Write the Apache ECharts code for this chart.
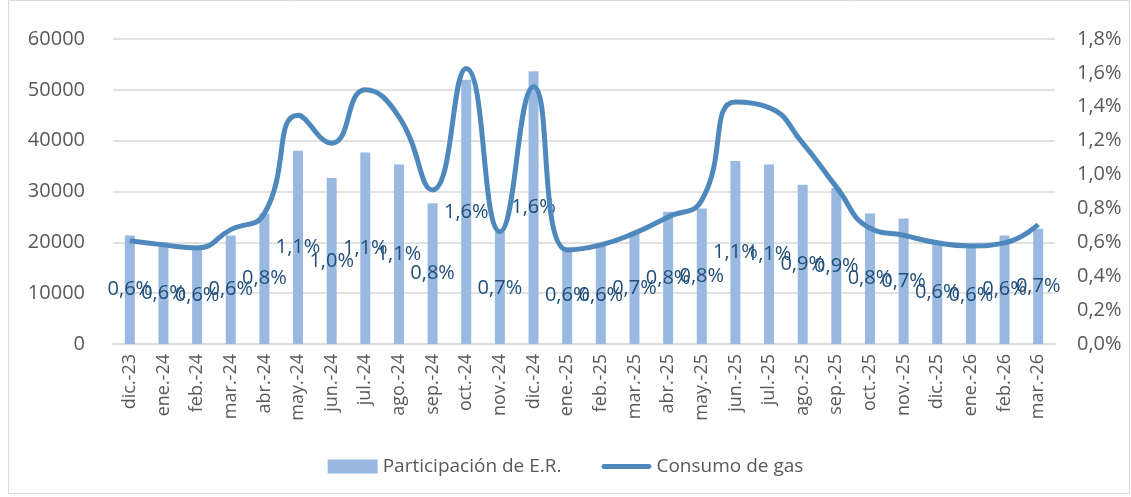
<!DOCTYPE html>
<html>
<head>
<meta charset="utf-8">
<script src="https://cdn.jsdelivr.net/npm/echarts@6/dist/echarts.min.js"></script>
<style>
  html, body { margin: 0; padding: 0; background: #fff; }
  #chart { width: 1131px; height: 497px; }
</style>
</head>
<body>
<div id="chart"></div>
<script>
// meses
const months = ['dic.-23', 'ene.-24', 'feb.-24', 'mar.-24', 'abr.-24', 'may.-24', 'jun.-24', 'jul.-24',
  'ago.-24', 'sep.-24', 'oct.-24', 'nov.-24', 'dic.-24', 'ene.-25', 'feb.-25', 'mar.-25', 'abr.-25',
  'may.-25', 'jun.-25', 'jul.-25', 'ago.-25', 'sep.-25', 'oct.-25', 'nov.-25', 'dic.-25', 'ene.-26',
  'feb.-26', 'mar.-26'];

// Participación de E.R. (%), eje derecho
const participacion = [0.64, 0.60, 0.58, 0.64, 0.77, 1.14, 0.98, 1.13,
  1.06, 0.83, 1.56, 0.66, 1.61, 0.57, 0.58, 0.66, 0.78,
  0.80, 1.08, 1.06, 0.94, 0.92, 0.77, 0.74, 0.61, 0.58,
  0.64, 0.68];

// Consumo de gas, eje izquierdo
const consumo = [20300, 19500, 18900, 22500, 25700, 45000, 39500, 50000,
  44700, 30300, 54200, 22100, 50600, 18500, 19500, 21800, 25000,
  28300, 47600, 46500, 39500, 30900, 22800, 21400, 19900, 19300,
  19900, 23500];

const leftTicks = { min: 0, max: 60000, interval: 10000 };
const rightTicks = { min: 0, max: 1.8, interval: 0.2 };

const pct = (v) => v.toFixed(1).replace('.', ',') + '%';
const FONT = '"Open Sans", "Noto Sans", sans-serif';

const chart = echarts.init(document.getElementById('chart'));
chart.setOption({
  animation: false,
  textStyle: { fontFamily: FONT },
  graphic: [{
    type: 'rect',
    shape: { x: 8.5, y: 0.5, width: 1121, height: 493 },
    style: { fill: 'none', stroke: '#d9d9d9', lineWidth: 1 },
    silent: true,
    z: -1
  }],
  grid: { left: 113, right: 76, top: 39, bottom: 153 },
  legend: {
    bottom: 16,
    left: 'center',
    itemGap: 40,
    itemWidth: 50,
    itemHeight: 14,
    textStyle: { fontSize: 19, color: '#595959', fontFamily: FONT },
    data: [
      { name: 'Participación de E.R.', icon: 'rect' },
      { name: 'Consumo de gas', icon: 'path://M2,0L48,0A2.5,2.5,0,0,1,48,5L2,5A2.5,2.5,0,0,1,2,0Z' }
    ]
  },
  xAxis: {
    type: 'category',
    data: months,
    axisLine: { lineStyle: { color: '#d9d9d9', width: 1.5 } },
    axisTick: { show: false },
    axisLabel: { rotate: 90, color: '#595959', fontSize: 18, margin: 10, interval: 0 }
  },
  yAxis: [
    {
      type: 'value',
      min: leftTicks.min, max: leftTicks.max, interval: leftTicks.interval,
      axisLine: { show: false },
      axisTick: { show: false },
      axisLabel: { color: '#595959', fontSize: 20, margin: 28, formatter: (v) => String(v) },
      splitLine: { lineStyle: { color: '#d9d9d9', width: 1.5 } }
    },
    {
      type: 'value',
      min: rightTicks.min, max: rightTicks.max, interval: rightTicks.interval,
      axisLine: { show: false },
      axisTick: { show: false },
      splitLine: { show: false },
      axisLabel: { color: '#595959', fontSize: 20, margin: 22, formatter: pct }
    }
  ],
  series: [
    {
      name: 'Participación de E.R.',
      type: 'bar',
      yAxisIndex: 1,
      data: participacion,
      barWidth: 10,
      itemStyle: { color: '#9ab9e0' },
      label: {
        show: true,
        position: 'inside',
        color: '#1f4e79',
        fontSize: 20,
        formatter: (p) => pct(p.value)
      },
      z: 2
    },
    {
      name: 'Consumo de gas',
      type: 'line',
      yAxisIndex: 0,
      data: consumo,
      smooth: 0.5,
      symbol: 'none',
      lineStyle: { color: '#4f88bd', width: 5 },
      itemStyle: { color: '#4f88bd' },
      z: 3
    }
  ]
});
</script>
</body>
</html>
